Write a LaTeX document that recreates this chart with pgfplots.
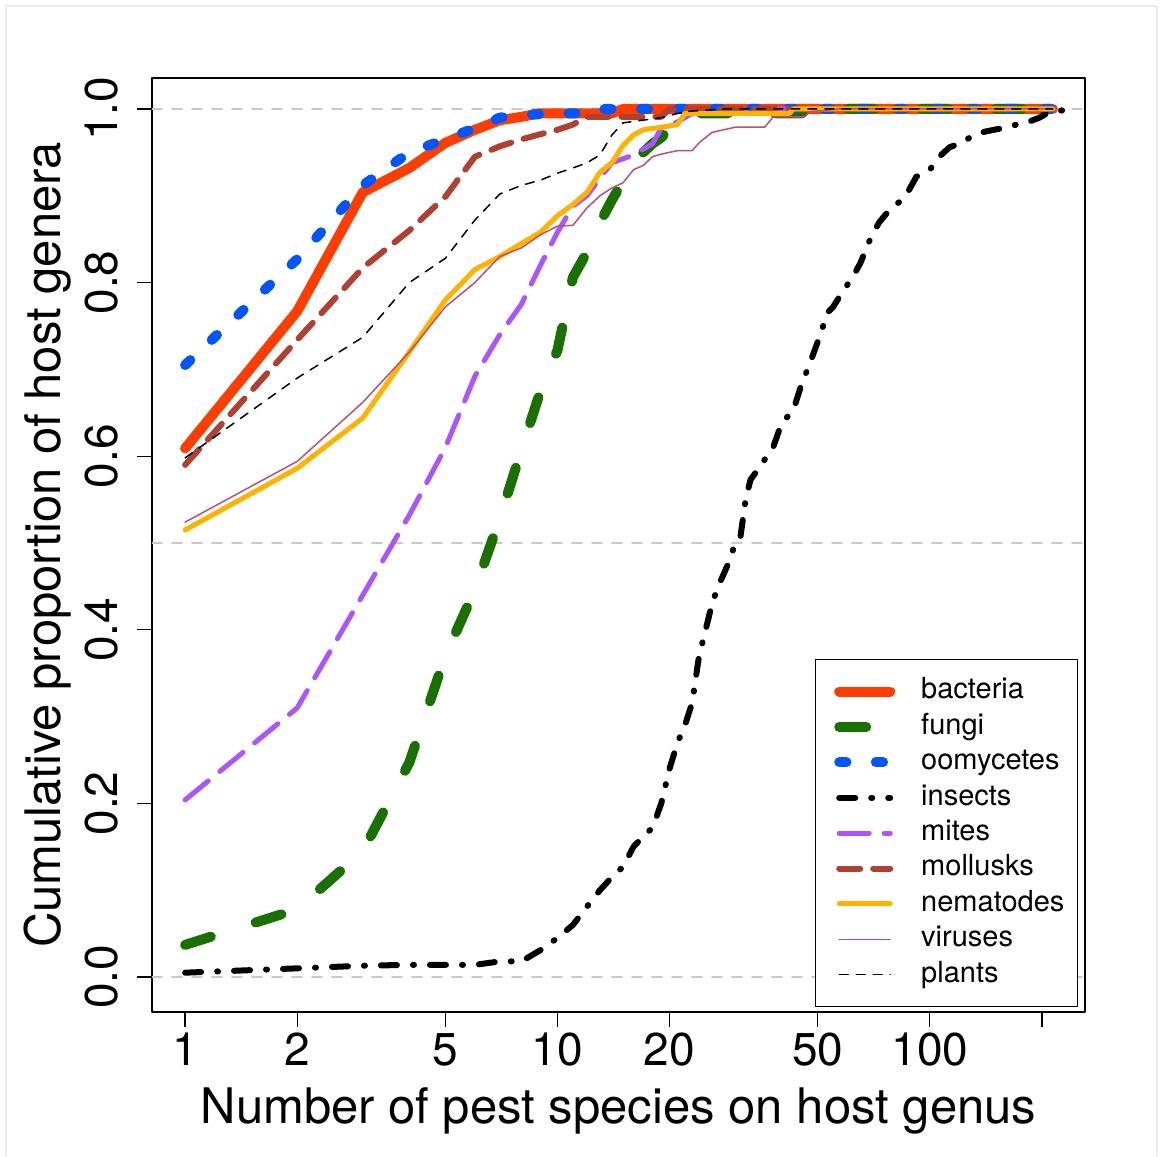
\documentclass[border=0pt]{standalone}
\usepackage{fontspec}
\setmainfont{TeX Gyre Heros}
\usepackage{pgfplots}
\pgfplotsset{compat=1.18}

\definecolor{cbact}{RGB}{255,61,0}
\definecolor{cfung}{RGB}{26,112,0}
\definecolor{coomy}{RGB}{0,85,255}
\definecolor{cmite}{RGB}{170,85,255}
\definecolor{cmoll}{RGB}{178,64,50}
\definecolor{cnema}{RGB}{255,178,0}
\definecolor{cviru}{RGB}{188,78,118}
\definecolor{cref}{RGB}{200,200,200}

\begin{document}
\begin{tikzpicture}[line cap=round, line join=round]
\path[use as bounding box] (-76pt,-72pt) rectangle (504pt,506pt);
\draw[black!8, line width=0.6pt] (-73pt,-72pt) -- (-73pt,503pt) -- (502.5pt,503pt) -- (502.5pt,-72pt);
\begin{axis}[
    name=ax,
    scale only axis, width=466.5pt, height=467pt,
    xmode=log, xmin=0.815, xmax=261,
    ymin=-0.0403, ymax=1.0357,
    xtick={1,2,5,10,20,50,100,200},
    xticklabels={1,2,5,10,20,50,100,{}},
    ytick={0,0.2,0.4,0.6,0.8,1},
    yticklabels={0.0,0.2,0.4,0.6,0.8,1.0},
    xminorticks=false, yminorticks=false,
    tick align=outside, major tick length=7.5pt,
    xtick pos=bottom, ytick pos=left,
    axis line style={line width=0.8pt},
    tick style={line width=0.6pt, black},
    every axis plot/.append style={line cap=round, line join=round},
    xticklabel style={font=\fontsize{23}{23}\selectfont, anchor=base, inner sep=0pt, yshift=-19pt},
    yticklabel style={font=\fontsize{23}{23}\selectfont, rotate=90, anchor=base, inner sep=0pt},
    yticklabel shift=10pt,
    xlabel={Number of pest species on host genus},
    ylabel={Cumulative proportion of host genera},
    xlabel style={font=\fontsize{24.5}{24.5}\selectfont, at={(axis description cs:0.5,-0.1199)}, anchor=base, inner sep=0pt},
    ylabel style={font=\fontsize{24.5}{24.5}\selectfont, at={(axis description cs:-0.0986,0.5)}, anchor=base, inner sep=0pt},
    legend style={at={(1,0)}, anchor=south east, xshift=-3.5pt, yshift=2.5pt,
        draw=black, line width=0.6pt, fill=white,
        font=\fontsize{14.5}{14.5}\selectfont,
        inner xsep=6.5pt, inner ysep=9pt, row sep=4pt, column sep=13pt,
        nodes={inner sep=0pt, text height=10.5pt, text depth=3.2pt}},
    legend cell align=left,
    legend image code/.code={\path (0pt,0pt); \draw[#1] (3pt,0pt) -- (28.5pt,0pt);},
]
\addplot[cref, line width=0.9pt, dash pattern=on 5pt off 5pt, forget plot] coordinates {(0.815,0) (261,0)};
\addplot[cref, line width=0.9pt, dash pattern=on 5pt off 5pt, forget plot] coordinates {(0.815,0.5) (261,0.5)};
\addplot[cref, line width=0.9pt, dash pattern=on 5pt off 5pt, forget plot] coordinates {(0.815,1) (261,1)};

% bacteria
\addplot[cbact, line width=5pt] coordinates {
(1,0.609) (2,0.767) (3,0.904) (4,0.932) (5,0.961) (6,0.976) (7,0.987) (8,0.991)
(9,0.995) (14,0.995) (15,1) (214,1)};
\addlegendentry{bacteria}
% fungi
\addplot[cfung, line width=5pt, dash pattern=on 13.5pt off 23.5pt] coordinates {
(1,0.037) (2,0.078) (3,0.145) (4,0.247) (5,0.37) (6,0.446) (7,0.528) (8,0.607)
(9,0.675) (10,0.722) (11,0.806) (12,0.835) (13,0.869) (14,0.895) (15,0.917)
(16,0.935) (17,0.95) (18,0.96) (19,0.967) (20,0.978) (21,0.99) (22,0.995)
(55,0.995) (57,1) (214,1)};
\addlegendentry{fungi}
% oomycetes
\addplot[coomy, line width=5pt, dash pattern=on 3.6pt off 14.7pt] coordinates {
(1,0.705) (2,0.827) (3,0.912) (4,0.95) (5,0.965) (6,0.978) (7,0.99) (8,0.993)
(10,0.995) (12,0.995) (13,1) (214,1)};
\addlegendentry{oomycetes}
% insects
\addplot[black, line width=3pt, dash pattern=on 8pt off 8pt on 0.5pt off 8pt] coordinates {
(1,0.005) (2,0.01) (3,0.013) (4,0.014) (5,0.014) (6,0.014) (7,0.018) (8,0.018)
(9,0.031) (10,0.045) (11,0.06) (12,0.081) (13,0.1) (14,0.115) (15,0.127)
(16,0.15) (17,0.162) (18,0.172) (19,0.2) (20,0.24) (21,0.27) (22,0.29)
(23,0.316) (24,0.37) (25,0.40) (26,0.43) (27,0.45) (28,0.465) (29,0.48)
(30,0.50) (31,0.507) (32,0.55) (33,0.573) (35,0.588) (38,0.611) (40,0.638)
(43,0.653) (45,0.68) (48,0.711) (51,0.742) (53,0.765) (55,0.772) (58,0.788)
(62,0.806) (65,0.822) (69,0.849) (73,0.869) (78,0.884) (84,0.895) (88,0.907)
(92,0.922) (100,0.93) (106,0.945) (113,0.956) (122,0.961) (131,0.97)
(141,0.974) (157,0.978) (171,0.982) (181,0.984) (197,0.99) (206,0.995) (237,1)};
\addlegendentry{insects}
% mites
\addplot[cmite, line width=2.5pt, dash pattern=on 15pt off 7.5pt] coordinates {
(1,0.204) (2,0.31) (3,0.44) (4,0.532) (5,0.61) (6,0.692) (7,0.74) (8,0.775)
(9,0.82) (10,0.858) (11,0.888) (12,0.9) (13,0.92) (14,0.938) (16,0.947)
(18,0.96) (19,0.978) (21,0.985) (23,0.995) (32,0.995) (33,1) (214,1)};
\addlegendentry{mites}
% mollusks
\addplot[cmoll, line width=3pt, dash pattern=on 10.5pt off 6.5pt] coordinates {
(1,0.59) (2,0.734) (3,0.817) (4,0.86) (5,0.899) (6,0.945) (7,0.957) (8,0.965)
(9,0.971) (10,0.976) (11,0.982) (12,0.991) (19,0.991) (20,1) (214,1)};
\addlegendentry{mollusks}
% nematodes
\addplot[cnema, line width=2.5pt] coordinates {
(1,0.515) (2,0.586) (3,0.644) (4,0.72) (5,0.78) (6,0.815) (7,0.83) (8,0.845)
(9,0.858) (10,0.877) (11,0.89) (12,0.904) (13,0.927) (14,0.938) (15,0.958)
(16,0.97) (17,0.976) (19,0.979) (21,0.982) (22,0.995) (42,0.995) (43,1) (214,1)};
\addlegendentry{nematodes}
% viruses
\addplot[cviru, line width=0.75pt] coordinates {
(1,0.524) (2,0.594) (3,0.662) (4,0.72) (5,0.772) (6,0.80) (7,0.83) (8,0.84)
(9,0.855) (10,0.865) (11,0.866) (12,0.886) (13,0.9) (14,0.909) (15,0.915)
(16,0.93) (17,0.935) (18,0.945) (19,0.948) (21,0.952) (23,0.952) (24,0.961)
(26,0.973) (30,0.979) (36,0.979) (38,0.991) (46,0.991) (48,0.997) (57,1) (214,1)};
\addlegendentry{viruses}
% plants
\addplot[black, line width=0.75pt, dash pattern=on 4.5pt off 4pt] coordinates {
(1,0.598) (2,0.69) (3,0.737) (4,0.80) (5,0.828) (6,0.872) (7,0.902) (8,0.912)
(9,0.918) (10,0.926) (11,0.932) (12,0.938) (13,0.947) (14,0.97) (15,0.984)
(19,0.99) (22,0.997) (28,1) (214,1)};
\addlegendentry{plants}
\end{axis}
\end{tikzpicture}
\end{document}
